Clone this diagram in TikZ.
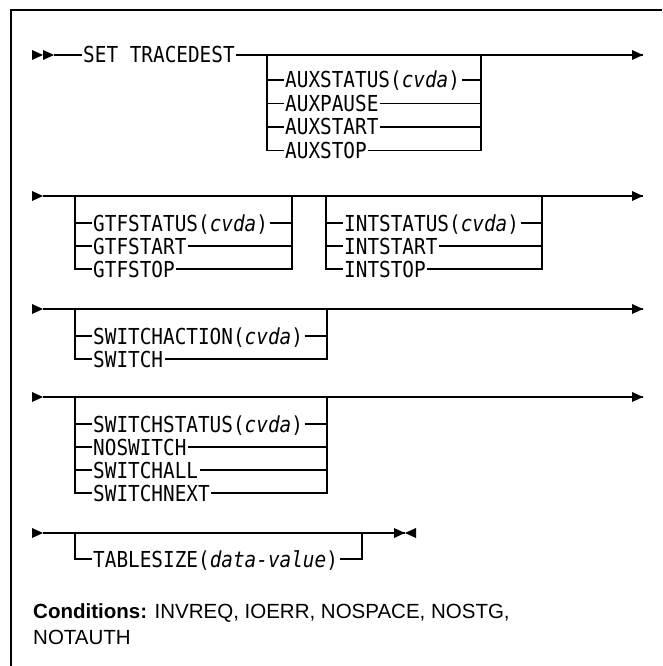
\documentclass[tikz,border=0pt]{standalone}
\usepackage{fontspec}
\setmainfont{Liberation Sans}
\setmonofont[FakeStretch=0.88]{DejaVu Sans Mono}
\newcommand{\synR}[1]{\fill (#1) ++(-11,-5) -- ++(11,5) -- ++(-11,5) -- cycle;}
\newcommand{\synL}[1]{\fill (#1) ++(11,-5) -- ++(-11,5) -- ++(11,5) -- cycle;}
\tikzset{
  rr/.style={line width=1.1pt},
  frame/.style={line width=1.1pt},
  opt/.style={font=\fontsize{22}{24}\selectfont\ttfamily, inner xsep=1.5pt, inner ysep=0pt,
              text height=18pt, text depth=2pt, anchor=west},
  cond/.style={font=\fontsize{20.5}{24}\selectfont, inner sep=0pt, anchor=base west},
}
\begin{document}
\begin{tikzpicture}[x=1pt,y=-1pt]
\useasboundingbox (0,0) rectangle (662,666);
% frame
\coordinate (ftl) at (11,10);
\coordinate (ftr) at (662,10);
\coordinate (fbl) at (11,666);
\draw[frame] (ftr) -- (ftl) -- (fbl);

% ---------- row 1
\coordinate (r1s) at (54,55);
\coordinate (r1e) at (643,55);
\node[opt] (set) at (81.5,55) {SET TRACEDEST};
\draw[rr] (r1s) -- (set.west);
\draw[rr] (set.east) -- (r1e);
\synR{43,55}
\synR{r1s}
\synR{r1e}
\coordinate (a0) at (267,55);
\coordinate (a0r) at (481,55);
\node[opt] (a1) at (283.5,80) {AUXSTATUS(\textit{cvda})};
\node[opt] (a2) at (283.5,103.5) {AUXPAUSE};
\node[opt] (a3) at (283.5,127) {AUXSTART};
\node[opt] (a4) at (283.5,150.5) {AUXSTOP};
\draw[rr] (a0) |- (a4.west);
\draw[rr] (a0r) |- (a4.east);
\foreach \n in {a1,a2,a3} {\draw[rr] (a0 |- \n.west) -- (\n.west) (\n.east) -- (a0r |- \n.east);}

% ---------- row 2
\coordinate (r2s) at (43,196);
\coordinate (r2e) at (643,196);
\draw[rr] (r2s) -- (r2e);
\synR{r2s}
\synR{r2e}
\coordinate (g0) at (75,196);
\coordinate (g0r) at (292,196);
\node[opt] (g1) at (91.5,223) {GTFSTATUS(\textit{cvda})};
\node[opt] (g2) at (91.5,246) {GTFSTART};
\node[opt] (g3) at (91.5,269) {GTFSTOP};
\draw[rr] (g0) |- (g3.west);
\draw[rr] (g0r) |- (g3.east);
\foreach \n in {g1,g2} {\draw[rr] (g0 |- \n.west) -- (\n.west) (\n.east) -- (g0r |- \n.east);}
\coordinate (i0) at (326,196);
\coordinate (i0r) at (542,196);
\node[opt] (i1) at (342.5,223) {INTSTATUS(\textit{cvda})};
\node[opt] (i2) at (342.5,246) {INTSTART};
\node[opt] (i3) at (342.5,269) {INTSTOP};
\draw[rr] (i0) |- (i3.west);
\draw[rr] (i0r) |- (i3.east);
\foreach \n in {i1,i2} {\draw[rr] (i0 |- \n.west) -- (\n.west) (\n.east) -- (i0r |- \n.east);}

% ---------- row 3
\coordinate (r3s) at (43,309);
\coordinate (r3e) at (643,309);
\draw[rr] (r3s) -- (r3e);
\synR{r3s}
\synR{r3e}
\coordinate (s0) at (75,309);
\coordinate (s0r) at (327,309);
\node[opt] (s1) at (91.5,336) {SWITCHACTION(\textit{cvda})};
\node[opt] (s2) at (91.5,359) {SWITCH};
\draw[rr] (s0) |- (s2.west);
\draw[rr] (s0r) |- (s2.east);
\draw[rr] (s0 |- s1.west) -- (s1.west) (s1.east) -- (s0r |- s1.east);

% ---------- row 4
\coordinate (r4s) at (43,397);
\coordinate (r4e) at (643,397);
\draw[rr] (r4s) -- (r4e);
\synR{r4s}
\synR{r4e}
\coordinate (w0) at (75,397);
\coordinate (w0r) at (327,397);
\node[opt] (w1) at (91.5,424) {SWITCHSTATUS(\textit{cvda})};
\node[opt] (w2) at (91.5,447) {NOSWITCH};
\node[opt] (w3) at (91.5,470) {SWITCHALL};
\node[opt] (w4) at (91.5,493) {SWITCHNEXT};
\draw[rr] (w0) |- (w4.west);
\draw[rr] (w0r) |- (w4.east);
\foreach \n in {w1,w2,w3} {\draw[rr] (w0 |- \n.west) -- (\n.west) (\n.east) -- (w0r |- \n.east);}

% ---------- row 5
\coordinate (r5s) at (43,533);
\coordinate (r5e) at (405,533);
\draw[rr] (r5s) -- (r5e);
\synR{r5s}
\synR{r5e}
\synL{r5e}
\coordinate (t0) at (75,533);
\coordinate (t0r) at (362,533);
\node[opt] (t1) at (91.5,559) {TABLESIZE(\textit{data-value})};
\draw[rr] (t0) |- (t1.west);
\draw[rr] (t0r) |- (t1.east);

% ---------- conditions
\node[cond] (c1) at (33,618) {\textbf{Conditions:} INVREQ, IOERR, NOSPACE, NOSTG,};
\node[cond] (c2) at (33,644) {NOTAUTH};
\end{tikzpicture}
\end{document}
